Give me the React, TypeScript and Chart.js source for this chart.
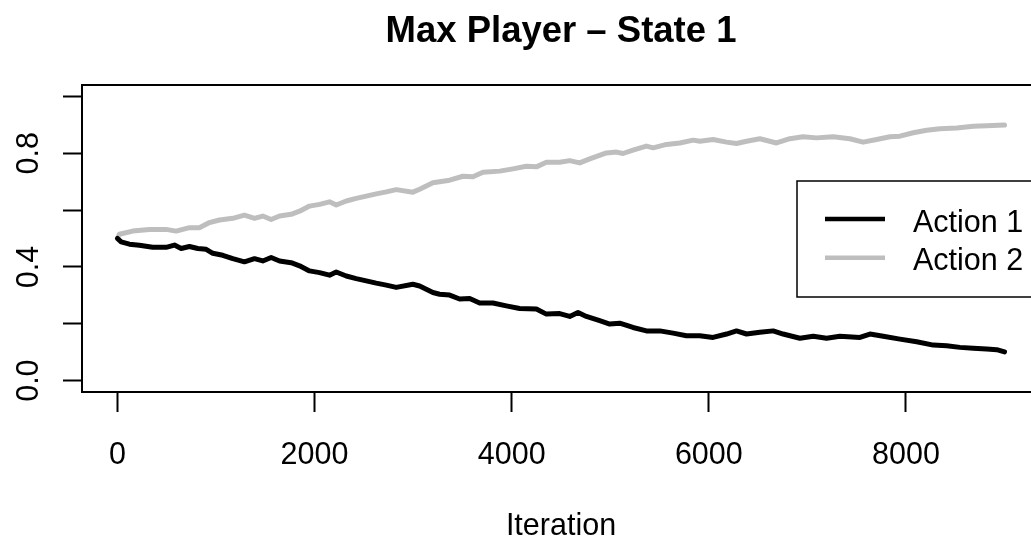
import { useEffect, useRef } from 'react';
import { Chart, registerables } from 'chart.js';

Chart.register(...registerables);

// Probability of each action for the max player in state 1, by iteration.
const ITER_ACTION_1 = [
  1, 38, 122, 223, 358, 494, 579, 647, 731, 815,
  901, 968, 1069, 1171, 1289, 1391, 1475, 1560, 1645, 1763,
  1848, 1949, 2051, 2152, 2220, 2322, 2423, 2525, 2626, 2728,
  2829, 2998, 3066, 3201, 3269, 3371, 3472, 3574, 3675, 3810,
  3946, 4081, 4251, 4352, 4487, 4589, 4673, 4758, 4893, 4995,
  5096, 5231, 5367, 5503, 5638, 5773, 5909, 6043, 6180, 6281,
  6383, 6518, 6653, 6754, 6924, 7059, 7195, 7330, 7533, 7635,
  7770, 7939, 8109, 8277, 8413, 8548, 8683, 8819, 8921, 9000,
];
const ACTION_1 = [
  0.5, 0.488, 0.48, 0.476, 0.469, 0.469, 0.477, 0.465, 0.472, 0.465,
  0.462, 0.448, 0.441, 0.429, 0.418, 0.429, 0.421, 0.433, 0.421, 0.415,
  0.404, 0.386, 0.38, 0.371, 0.382, 0.368, 0.359, 0.351, 0.343, 0.336,
  0.328, 0.339, 0.333, 0.31, 0.304, 0.301, 0.287, 0.289, 0.273, 0.273,
  0.263, 0.254, 0.252, 0.234, 0.236, 0.226, 0.24, 0.226, 0.211, 0.199,
  0.202, 0.187, 0.175, 0.175, 0.167, 0.158, 0.158, 0.152, 0.164, 0.175,
  0.164, 0.17, 0.175, 0.164, 0.149, 0.156, 0.149, 0.156, 0.152, 0.164,
  0.156, 0.146, 0.137, 0.125, 0.123, 0.117, 0.114, 0.111, 0.109, 0.101,
];
const ITER_ACTION_2 = [
  1, 20, 155, 325, 494, 596, 731, 832, 934, 1036,
  1171, 1289, 1391, 1475, 1560, 1645, 1763, 1848, 1949, 2051,
  2152, 2220, 2322, 2423, 2525, 2626, 2728, 2829, 2998, 3066,
  3201, 3371, 3506, 3607, 3709, 3878, 4013, 4149, 4251, 4352,
  4487, 4589, 4690, 4792, 4961, 5063, 5130, 5231, 5367, 5435,
  5571, 5706, 5841, 5909, 6043, 6180, 6281, 6383, 6518, 6687,
  6822, 6957, 7093, 7262, 7431, 7566, 7702, 7838, 7939, 8074,
  8210, 8345, 8515, 8683, 8819, 9000,
];
const ACTION_2 = [
  0.5, 0.515, 0.526, 0.532, 0.532, 0.526, 0.538, 0.538, 0.556, 0.565,
  0.571, 0.582, 0.571, 0.579, 0.567, 0.579, 0.585, 0.596, 0.614, 0.62,
  0.629, 0.618, 0.632, 0.641, 0.649, 0.657, 0.664, 0.672, 0.663, 0.673,
  0.696, 0.705, 0.719, 0.717, 0.733, 0.737, 0.745, 0.754, 0.752, 0.768,
  0.768, 0.774, 0.766, 0.78, 0.801, 0.804, 0.799, 0.811, 0.825, 0.819,
  0.831, 0.836, 0.846, 0.842, 0.848, 0.839, 0.834, 0.842, 0.851, 0.836,
  0.851, 0.858, 0.854, 0.858, 0.851, 0.839, 0.848, 0.858, 0.86, 0.872,
  0.881, 0.886, 0.889, 0.895, 0.897, 0.899,
];

const SERIES_NAMES = ['Action 1', 'Action 2'];
const SERIES_COLORS = ['#000000', '#bebebe'];
const X_TICKS = [0, 2000, 4000, 6000, 8000];
const Y_TICKS = [0, 0.2, 0.4, 0.6, 0.8, 1.0];
const Y_TICK_LABELS = ['0.0', '', '0.4', '', '0.8', ''];
const TITLE = 'Max Player – State 1';
const X_TITLE = 'Iteration';

const FONT = '"Liberation Sans", Arial, Helvetica, sans-serif';
const X_LAST = 9000;
const X_FIRST = 1;

// Base-graphics look: boxed plot region, rotated y labels, boxed legend.
const basePlotDecor = {
  id: 'basePlotDecor',
  afterDraw(chart: any) {
    const { ctx, chartArea, scales } = chart;
    const xs = scales.x;
    const ys = scales.y;
    const cx = (chartArea.left + chartArea.right) / 2;
    ctx.save();

    // plot box
    ctx.strokeStyle = '#000';
    ctx.lineWidth = 2;
    ctx.strokeRect(chartArea.left, chartArea.top, chartArea.right - chartArea.left, chartArea.bottom - chartArea.top);

    ctx.fillStyle = '#000';
    ctx.textBaseline = 'alphabetic';

    // title
    ctx.font = `bold 36.5px ${FONT}`;
    ctx.textAlign = 'center';
    ctx.fillText(TITLE, cx, 42);

    // x tick labels and axis title
    ctx.font = `30.5px ${FONT}`;
    X_TICKS.forEach((v) => {
      ctx.fillText(String(v), xs.getPixelForValue(v), 464);
    });
    ctx.fillText(X_TITLE, cx, 535);

    // y tick labels, written parallel to the axis
    Y_TICKS.forEach((v, i) => {
      const label = Y_TICK_LABELS[i];
      if (!label) return;
      ctx.save();
      ctx.translate(37.5, ys.getPixelForValue(v));
      ctx.rotate(-Math.PI / 2);
      ctx.textAlign = 'center';
      ctx.fillText(label, 0, 0);
      ctx.restore();
    });

    // legend
    const lx = 797;
    const ly = 181;
    ctx.fillStyle = '#fff';
    ctx.fillRect(lx, ly, 260, 116);
    ctx.strokeStyle = '#000';
    ctx.lineWidth = 1.5;
    ctx.strokeRect(lx, ly, 260, 116);
    chart.data.datasets.forEach((ds: any, i: number) => {
      const rowY = 219 + i * 38.7;
      ctx.strokeStyle = ds.borderColor;
      ctx.lineWidth = 4.5;
      ctx.lineCap = 'butt';
      ctx.beginPath();
      ctx.moveTo(825, rowY);
      ctx.lineTo(885, rowY);
      ctx.stroke();
      ctx.fillStyle = '#000';
      ctx.font = `30.5px ${FONT}`;
      ctx.textAlign = 'left';
      ctx.fillText(ds.label, 913, 231.5 + i * 38.5);
    });

    ctx.restore();
  },
};

export default function App() {
  const canvasRef = useRef<HTMLCanvasElement | null>(null);

  useEffect(() => {
    const canvas = canvasRef.current;
    if (!canvas) return;
    const span = X_LAST - X_FIRST;
    const chart = new Chart(canvas, {
      type: 'line',
      data: {
        datasets: [
          {
            label: SERIES_NAMES[0],
            data: ITER_ACTION_1.map((x, i) => ({ x, y: ACTION_1[i] })),
            borderColor: SERIES_COLORS[0],
            borderWidth: 5,
            pointRadius: 0,
            tension: 0,
            borderCapStyle: 'round',
            borderJoinStyle: 'round',
          },
          {
            label: SERIES_NAMES[1],
            data: ITER_ACTION_2.map((x, i) => ({ x, y: ACTION_2[i] })),
            borderColor: SERIES_COLORS[1],
            borderWidth: 5,
            pointRadius: 0,
            tension: 0,
            borderCapStyle: 'round',
            borderJoinStyle: 'round',
          },
        ],
      },
      options: {
        responsive: false,
        animation: false,
        devicePixelRatio: 1,
        layout: { padding: { left: 0, top: 85, right: 82, bottom: 0 } },
        plugins: {
          legend: { display: false },
          title: { display: false },
          tooltip: { enabled: false },
        },
        scales: {
          x: {
            type: 'linear',
            min: X_FIRST - 0.04 * span,
            max: X_LAST + 0.04 * span,
            afterBuildTicks: (scale: any) => {
              scale.ticks = X_TICKS.map((value) => ({ value }));
            },
            afterFit: (scale: any) => {
              scale.height = 149;
            },
            ticks: { display: false },
            grid: {
              drawOnChartArea: false,
              drawTicks: true,
              tickLength: 20,
              tickWidth: 2,
              tickColor: '#000',
            },
            border: { display: true, color: '#000', width: 2 },
          },
          y: {
            type: 'linear',
            min: -0.04,
            max: 1.04,
            afterBuildTicks: (scale: any) => {
              scale.ticks = Y_TICKS.map((value) => ({ value }));
            },
            afterFit: (scale: any) => {
              scale.width = 82;
            },
            ticks: { display: false },
            grid: {
              drawOnChartArea: false,
              drawTicks: true,
              tickLength: 19,
              tickWidth: 2,
              tickColor: '#000',
            },
            border: { display: true, color: '#000', width: 2 },
          },
        },
      },
      plugins: [basePlotDecor],
    });
    return () => chart.destroy();
  }, []);

  return (
    <div
      style={{
        position: 'fixed',
        left: 0,
        top: 0,
        width: 1031,
        height: 541,
        overflow: 'hidden',
        background: '#fff',
      }}
    >
      <canvas ref={canvasRef} width={1122} height={541} style={{ display: 'block' }} />
    </div>
  );
}
